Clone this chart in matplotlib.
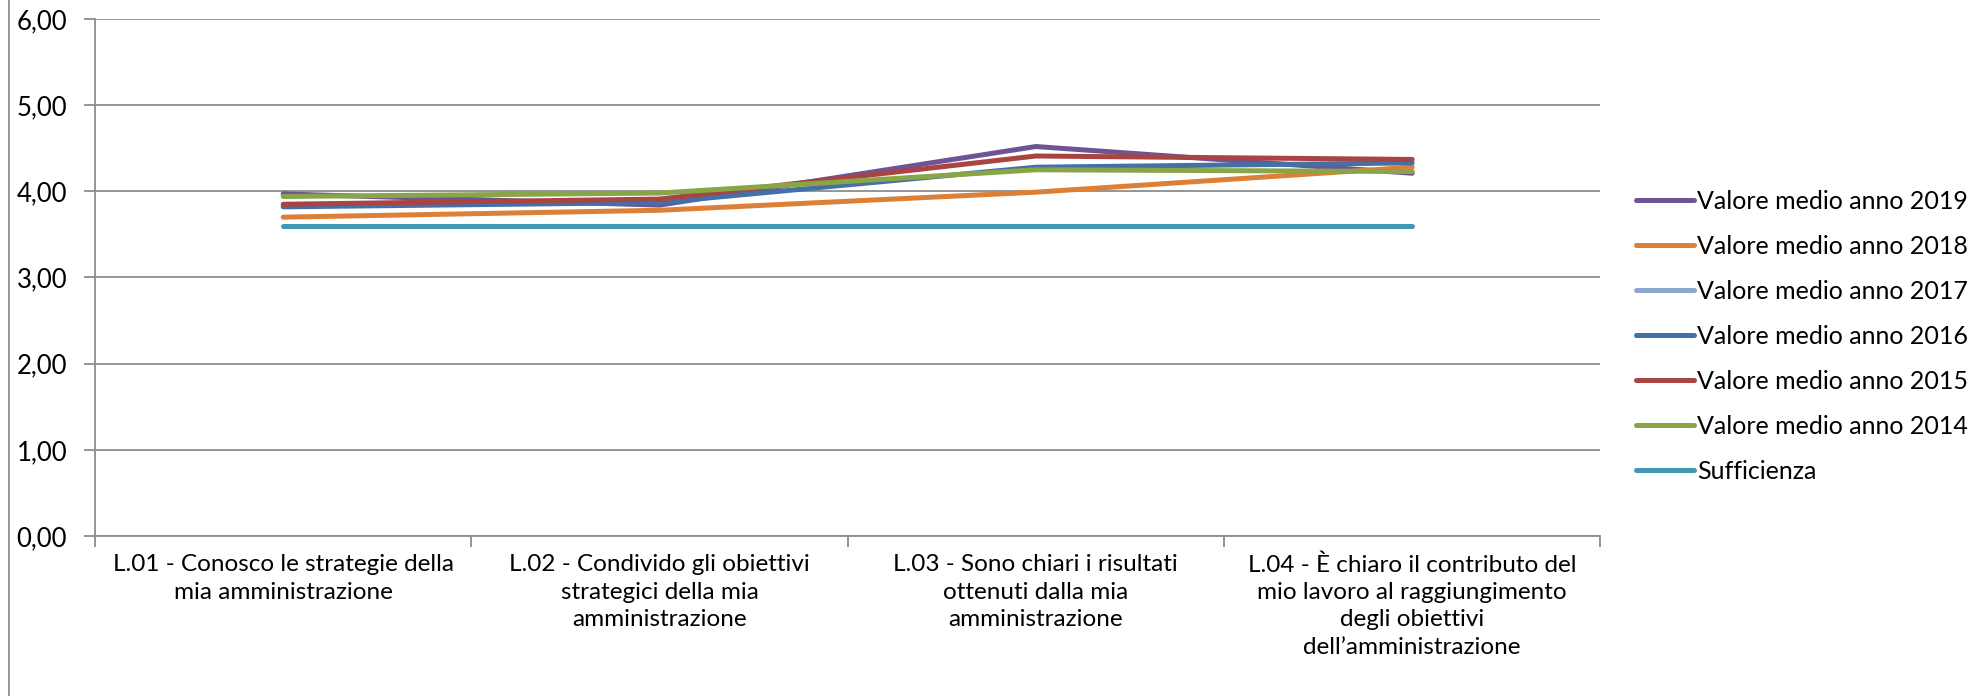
import matplotlib.pyplot as plt
import numpy as np
from matplotlib.lines import Line2D

plt.rcParams['font.family'] = ['Lato', 'DejaVu Sans']

categorie = [
    "L.01 - Conosco le strategie della\nmia amministrazione",
    "L.02 - Condivido gli obiettivi\nstrategici della mia\namministrazione",
    "L.03 - Sono chiari i risultati\nottenuti dalla mia\namministrazione",
    "L.04 - È chiaro il contributo del\nmio lavoro al raggiungimento\ndegli obiettivi\ndell’amministrazione",
]

anno_2019 = [3.97, 3.84, 4.52, 4.21]
anno_2018 = [3.70, 3.78, 3.99, 4.28]
anno_2017 = [np.nan, np.nan, np.nan, np.nan]
anno_2016 = [3.82, 3.87, 4.28, 4.33]
anno_2015 = [3.85, 3.91, 4.41, 4.37]
anno_2014 = [3.94, 3.98, 4.25, 4.23]
sufficienza = [3.60, 3.60, 3.60, 3.60]

serie = [
    ("Valore medio anno 2019", anno_2019, "#6E5494"),
    ("Valore medio anno 2018", anno_2018, "#DD8037"),
    ("Valore medio anno 2017", anno_2017, "#8EA6CF"),
    ("Valore medio anno 2016", anno_2016, "#4470A8"),
    ("Valore medio anno 2015", anno_2015, "#A84442"),
    ("Valore medio anno 2014", anno_2014, "#88A548"),
    ("Sufficienza", sufficienza, "#4298B0"),
]

fig = plt.figure(figsize=(19.88, 6.96), dpi=100)
ax = fig.add_axes([0.0478, 0.2299, 0.7572, 0.7428])

x = np.arange(len(categorie)) + 0.5
handles = []
for nome, valori, colore in serie:
    ax.plot(x, valori, color=colore, lw=3.6, solid_capstyle='round',
            solid_joinstyle='round')
    handles.append(Line2D([0], [0], color=colore, lw=3.6,
                          solid_capstyle='round', label=nome))

grigio = "#8C8C8C"
ax.set_xlim(0, len(categorie))
ax.set_ylim(0, 6)
ax.set_yticks(np.arange(0, 7, 1))
ax.set_yticklabels([f"{v:.2f}".replace(".", ",") for v in range(7)], fontsize=18.5)
ax.set_xticks(np.arange(0, len(categorie) + 1, 1))
ax.set_xticklabels([])
ax.set_xticks(x, minor=True)
ax.set_xticklabels(categorie, minor=True, fontsize=17.5, linespacing=1.38)
ax.tick_params(axis='x', which='minor', length=0, pad=13)
ax.tick_params(axis='x', which='major', length=8, color=grigio, width=1.3)
ax.tick_params(axis='y', length=8, color=grigio, width=1.3, pad=12)
ax.yaxis.grid(True, color=grigio, lw=1.3)
ax.set_axisbelow(True)
for lato in ['top', 'right']:
    ax.spines[lato].set_visible(False)
for lato in ['left', 'bottom']:
    ax.spines[lato].set_color(grigio)
    ax.spines[lato].set_linewidth(1.3)

fig.legend(handles=handles, loc='upper left', bbox_to_anchor=(0.818, 0.742),
           frameon=False, fontsize=18, handlelength=2.3, handletextpad=0.15,
           labelspacing=0.88, borderaxespad=0)

fig.add_artist(Line2D([0.0045, 0.0045], [0, 1], color=grigio, lw=1.3,
                      transform=fig.transFigure))

fig.savefig("out.png", dpi=100)
